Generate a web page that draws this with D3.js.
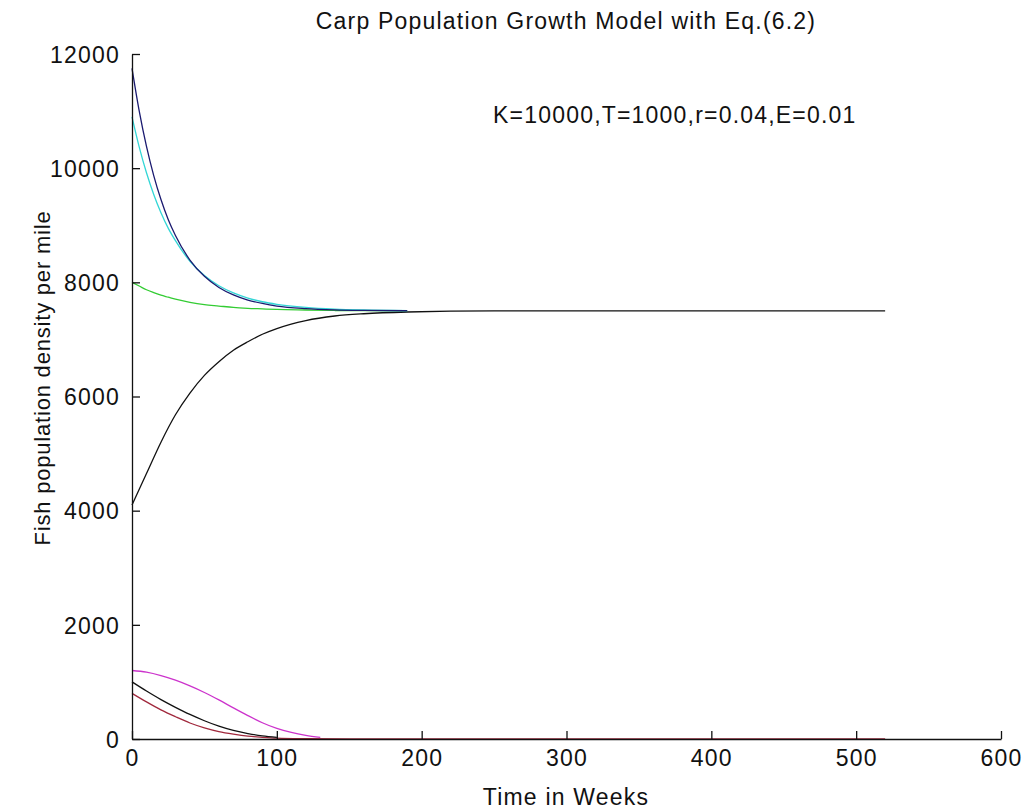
<!DOCTYPE html>
<html>
<head>
<meta charset="utf-8">
<script src="https://cdn.jsdelivr.net/npm/d3@7"></script>
<style>
  body { margin: 0; background: #fff; }
  text { font-family: "Liberation Sans", Arial, sans-serif; fill: #111; }
</style>
</head>
<body>
<div id="chart"><svg></svg></div>
<script>
// chart size
const w = 1026;
const h = 810;

// data (time in weeks, fish per mile)
const tUpper = [0, 5, 10, 15, 20, 25, 30, 40, 50, 60, 70, 80, 90, 100, 120, 140, 160, 190];
const navy = [11750, 11000, 10380, 9870, 9450, 9100, 8820, 8390, 8105, 7910, 7780, 7690, 7630, 7585, 7540, 7518, 7508, 7502];
const cyan = [10900, 10370, 9920, 9540, 9220, 8950, 8730, 8370, 8120, 7940, 7815, 7725, 7660, 7615, 7560, 7530, 7515, 7505];
const green = [8000, 7935, 7870, 7820, 7775, 7740, 7705, 7650, 7610, 7585, 7560, 7545, 7535, 7525, 7515, 7507, 7504, 7500];

const tRise = [0, 10, 20, 30, 40, 50, 60, 70, 80, 90, 100, 120, 140, 160, 190, 250, 520];
const blackUp = [4100, 4650, 5200, 5680, 6060, 6370, 6610, 6810, 6960, 7090, 7190, 7330, 7410, 7450, 7480, 7500, 7500];

const tLow = [0, 10, 20, 30, 40, 50, 60, 70, 80, 90, 100, 110, 120, 130];
const magenta = [1200, 1170, 1110, 1030, 930, 815, 685, 545, 410, 285, 185, 115, 65, 30];
const tBlackLow = [0, 10, 20, 30, 40, 50, 60, 70, 80, 90, 100];
const blackLow = [1000, 840, 690, 555, 430, 320, 225, 150, 95, 55, 30];
const tBrown = [0, 10, 20, 30, 40, 50, 60, 70, 80, 90, 100, 120, 150, 520];
const brown = [800, 650, 510, 390, 280, 195, 130, 85, 50, 30, 15, 5, 0, 0];

const xTicks = [0, 100, 200, 300, 400, 500, 600];
const yTicks = [0, 2000, 4000, 6000, 8000, 10000, 12000];

const series = [
  { t: tBrown, v: brown, color: "#a0283c" },
  { t: tBlackLow, v: blackLow, color: "#111" },
  { t: tLow, v: magenta, color: "#cc33cc" },
  { t: tRise, v: blackUp, color: "#111" },
  { t: tUpper, v: green, color: "#33cc33" },
  { t: tUpper, v: cyan, color: "#33d6d6" },
  { t: tUpper, v: navy, color: "#1a1a70" }
];

const svg = d3.select("#chart svg")
  .attr("width", w)
  .attr("height", h);

// plot area
const x = d3.scaleLinear().domain([0, 600]).range([132, 1001]);
const y = d3.scaleLinear().domain([0, 12000]).range([739, 54]);

const line = d3.line()
  .x(d => x(d[0]))
  .y(d => y(d[1]))
  .curve(d3.curveMonotoneX);

svg.append("g")
  .selectAll("path")
  .data(series)
  .join("path")
  .attr("d", s => line(s.t.map((t, i) => [t, s.v[i]])))
  .attr("fill", "none")
  .attr("stroke", s => s.color)
  .attr("stroke-width", 1.3);

// axes, ticks pointing inward, no box
const xAxis = d3.axisBottom(x).tickValues(xTicks).tickFormat(d3.format("d"))
  .tickSizeInner(-8).tickSizeOuter(0).tickPadding(22);
const yAxis = d3.axisLeft(y).tickValues(yTicks).tickFormat(d3.format("d"))
  .tickSizeInner(-8).tickSizeOuter(0).tickPadding(12);

const gx = svg.append("g").attr("transform", "translate(0,739)").call(xAxis);
const gy = svg.append("g").attr("transform", "translate(132,0)").call(yAxis);

[gx, gy].forEach(g => {
  g.select(".domain").attr("stroke", "#111").attr("stroke-width", 1.3);
  g.selectAll(".tick line").attr("stroke", "#111").attr("stroke-width", 1.3);
  g.selectAll("text")
    .attr("font-size", 23)
    .attr("letter-spacing", 1.2)
    .attr("font-family", "Liberation Sans, Arial, sans-serif")
    .attr("fill", "#111");
});
gx.selectAll(".tick text").attr("dy", "0.2em");
gy.selectAll(".tick text").attr("dy", "0.36em");

// titles
svg.append("text")
  .attr("x", 566).attr("y", 29)
  .attr("text-anchor", "middle")
  .attr("font-size", 23).attr("letter-spacing", 1.2)
  .text("Carp Population Growth Model with Eq.(6.2)");

svg.append("text")
  .attr("x", 493).attr("y", 123)
  .attr("font-size", 23).attr("letter-spacing", 1.2)
  .text("K=10000,T=1000,r=0.04,E=0.01");

svg.append("text")
  .attr("x", 566).attr("y", 805)
  .attr("text-anchor", "middle")
  .attr("font-size", 23).attr("letter-spacing", 1.2)
  .text("Time in Weeks");

svg.append("text")
  .attr("transform", "translate(50,378) rotate(-90)")
  .attr("text-anchor", "middle")
  .attr("font-size", 22).attr("letter-spacing", 0.8)
  .text("Fish population density per mile");
</script>
</body>
</html>
